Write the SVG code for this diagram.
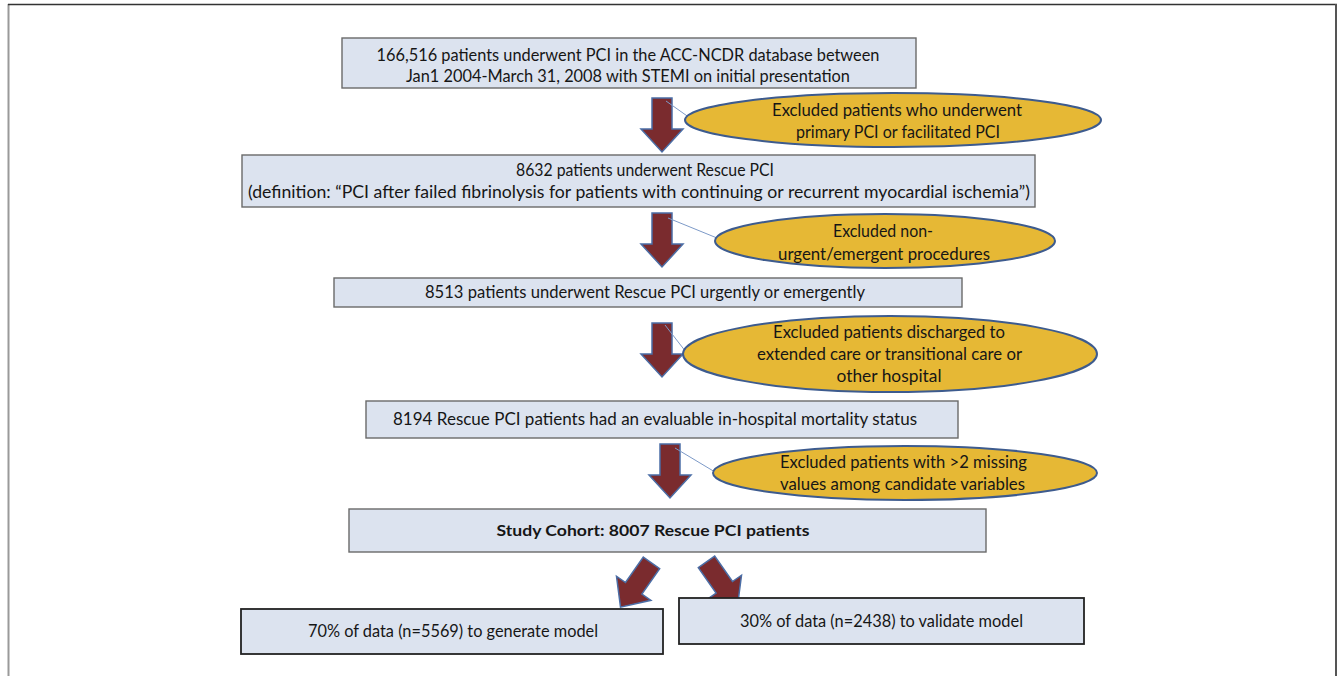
<svg xmlns="http://www.w3.org/2000/svg" width="1341" height="676" viewBox="0 0 1341 676">
<style>
.box{fill:#dce3ef;stroke:#6a6a6a;stroke-width:1.4}
.box2{fill:#dce3ef;stroke:#222;stroke-width:1.8}
.ell{fill:#e6b835;stroke:#3d5b8e;stroke-width:2}
.t{font-family:Lato,"Liberation Sans",sans-serif;font-size:17px;fill:#161616;text-anchor:middle}
.b{font-weight:bold;font-size:15.5px}
.arr{fill:#7a2b2e;stroke:#4b6ea6;stroke-width:1.5}
.con{stroke:#7d9ac8;stroke-width:1;fill:none}
</style>
<defs>
<path id="dn" d="M-10,-27 H10 V4 H21 L0,27 L-21,4 H-10 Z"/>
</defs>
<g id="frame" fill="none">
<line x1="8.5" y1="4" x2="8.5" y2="676" stroke="#9a9a9a" stroke-width="2"/>
<line x1="8" y1="4.5" x2="1337" y2="4.5" stroke="#333" stroke-width="1.5"/>
<line x1="1336" y1="4" x2="1336" y2="676" stroke="#555" stroke-width="2"/>
</g>
<g id="connectors">
<use href="#dn" class="arr" transform="translate(662,125)"/>
<use href="#dn" class="arr" transform="translate(662,240)"/>
<use href="#dn" class="arr" transform="translate(662,350)"/>
<use href="#dn" class="arr" transform="translate(670,471)"/>
<use href="#dn" class="arr" transform="translate(636,585) rotate(35)"/>
<use href="#dn" class="arr" transform="translate(722,584) rotate(-35)"/>
<line class="con" x1="666" y1="101" x2="690" y2="118"/>
<line class="con" x1="668" y1="218" x2="717" y2="238"/>
<line class="con" x1="665" y1="325" x2="686" y2="352"/>
<line class="con" x1="675" y1="448" x2="715" y2="472"/>
</g>
<g id="n1">
<rect class="box" x="342" y="38" width="574" height="50"/>
<text class="t" x="628" y="61" textLength="503" lengthAdjust="spacingAndGlyphs">166,516 patients underwent PCI in the ACC-NCDR database between</text>
<text class="t" x="628" y="82" textLength="444" lengthAdjust="spacingAndGlyphs">Jan1 2004-March 31, 2008 with STEMI on initial presentation</text>
</g>
<g id="e1">
<ellipse class="ell" cx="893" cy="120" rx="208" ry="27"/>
<text class="t" x="897" y="116" textLength="250" lengthAdjust="spacingAndGlyphs">Excluded patients who underwent</text>
<text class="t" x="898" y="138" textLength="204" lengthAdjust="spacingAndGlyphs">primary PCI or facilitated PCI</text>
</g>
<g id="n2">
<rect class="box" x="242" y="155" width="793" height="52"/>
<text class="t" x="645" y="176" textLength="258" lengthAdjust="spacingAndGlyphs">8632 patients underwent Rescue PCI</text>
<text class="t" x="639" y="198" textLength="782" lengthAdjust="spacingAndGlyphs">(definition: “PCI after failed fibrinolysis for patients with continuing or recurrent myocardial ischemia”)</text>
</g>
<g id="e2">
<ellipse class="ell" cx="885" cy="241" rx="170" ry="27"/>
<text class="t" x="883" y="237" textLength="100" lengthAdjust="spacingAndGlyphs">Excluded non-</text>
<text class="t" x="884" y="260" textLength="212" lengthAdjust="spacingAndGlyphs">urgent/emergent procedures</text>
</g>
<g id="n3">
<rect class="box" x="334" y="278" width="628" height="29"/>
<text class="t" x="645" y="298" textLength="440" lengthAdjust="spacingAndGlyphs">8513 patients underwent  Rescue PCI urgently or emergently</text>
</g>
<g id="e3">
<ellipse class="ell" cx="890" cy="354" rx="207" ry="38"/>
<text class="t" x="889" y="338" textLength="232" lengthAdjust="spacingAndGlyphs">Excluded patients discharged to</text>
<text class="t" x="889.5" y="360" textLength="265" lengthAdjust="spacingAndGlyphs">extended care or transitional care or</text>
<text class="t" x="889" y="382" textLength="105" lengthAdjust="spacingAndGlyphs">other hospital</text>
</g>
<g id="n4">
<rect class="box" x="366" y="401" width="592" height="37"/>
<text class="t" x="655" y="425" textLength="524" lengthAdjust="spacingAndGlyphs">8194 Rescue PCI patients had an evaluable in-hospital mortality status</text>
</g>
<g id="e4">
<ellipse class="ell" cx="905" cy="473" rx="192" ry="27"/>
<text class="t" x="903.5" y="468" textLength="247" lengthAdjust="spacingAndGlyphs">Excluded patients with &gt;2 missing</text>
<text class="t" x="902.5" y="490" textLength="245" lengthAdjust="spacingAndGlyphs">values among candidate variables</text>
</g>
<g id="n5">
<rect class="box" x="349" y="509" width="637" height="43"/>
<text class="t b" x="653" y="536" textLength="313" lengthAdjust="spacingAndGlyphs">Study Cohort: 8007 Rescue PCI patients</text>
</g>
<g id="n6">
<rect class="box2" x="241" y="609" width="422" height="45"/>
<text class="t" x="453" y="637" textLength="290" lengthAdjust="spacingAndGlyphs">70% of data (n=5569) to generate model</text>
</g>
<g id="n7">
<rect class="box2" x="679" y="598" width="405" height="46"/>
<text class="t" x="881.5" y="627" textLength="283" lengthAdjust="spacingAndGlyphs">30% of data (n=2438) to validate model</text>
</g>
</svg>
